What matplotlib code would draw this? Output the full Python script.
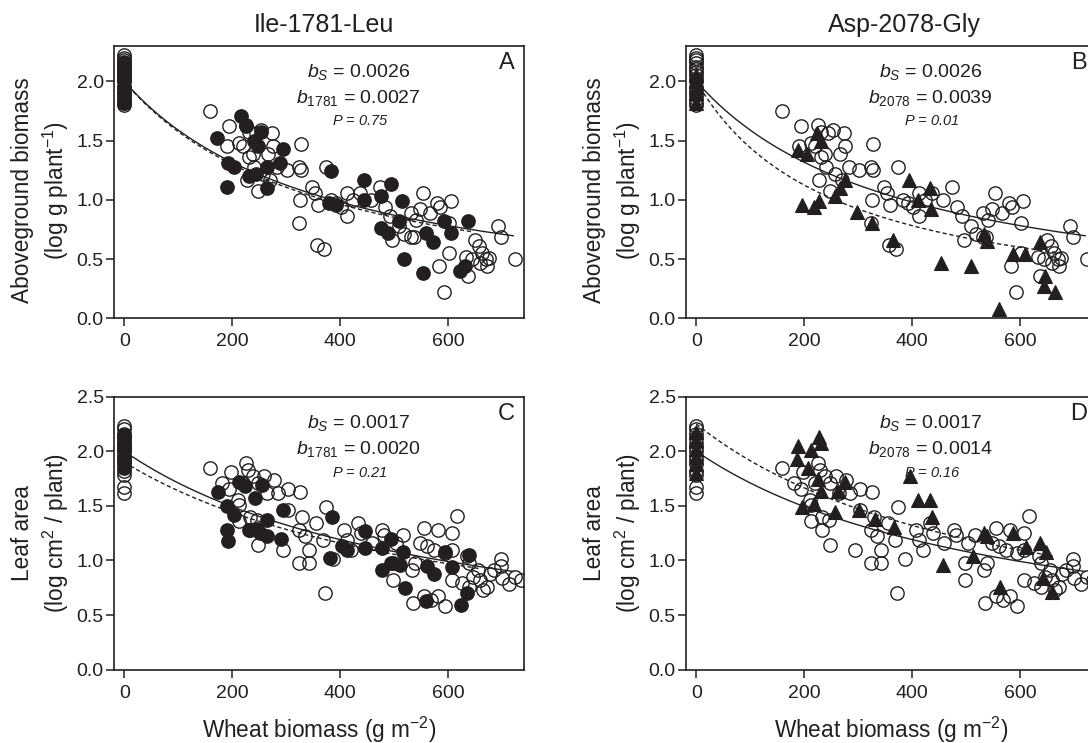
import numpy as np
import matplotlib
matplotlib.use("Agg")
import matplotlib.pyplot as plt

plt.rcParams['font.family'] = ['Liberation Sans', 'DejaVu Sans']
plt.rcParams['mathtext.fontset'] = 'custom'
plt.rcParams['mathtext.rm'] = 'Liberation Sans'
plt.rcParams['mathtext.it'] = 'Liberation Sans:italic'
plt.rcParams['mathtext.bf'] = 'Liberation Sans:bold'

# ---------------- data ----------------
titles = ["Ile-1781-Leu", "Asp-2078-Gly"]
panel_letters = ["A", "B", "C", "D"]
bio_ylabel = "Aboveground biomass\n(log g plant$^{-1}$)"
leaf_ylabel = "Leaf area\n(log cm$^{2}$ / plant)"
xlabel = "Wheat biomass (g m$^{-2}$)"
xticks = [0, 200, 400, 600]
bio_yticks = [0.0, 0.5, 1.0, 1.5, 2.0]
leaf_yticks = [0.0, 0.5, 1.0, 1.5, 2.0, 2.5]

# Aboveground biomass, susceptible (open circles)
bio_S_x = [0, 0, 0, 0, 0, 0, 0, 0, 0, 0, 0, 0, 0, 0, 0, 0,
           158, 194, 191, 212, 219, 225, 230, 244, 254, 273, 238, 231, 267, 276,
           241, 257, 228, 248, 270, 283, 302, 327, 323, 328, 347, 354, 359, 325,
           323, 357, 369, 373, 383, 392, 402, 412, 412, 424, 437, 457, 473, 482,
           492, 495, 508, 518, 531, 537, 531, 540, 547, 553, 566, 579, 585, 605,
           602, 602, 582, 592, 637, 633, 649, 656, 662, 669, 672, 643, 659, 675,
           691, 698, 723]
bio_S_y = [1.80, 1.82, 1.85, 1.88, 1.92, 1.95, 2.00, 2.02, 2.05, 2.08, 2.10, 2.12, 2.15, 2.18, 2.20, 2.22,
           1.75, 1.62, 1.45, 1.48, 1.45, 1.63, 1.57, 1.56, 1.59, 1.56, 1.39, 1.36, 1.39, 1.45,
           1.28, 1.22, 1.17, 1.07, 1.17, 1.28, 1.25, 1.47, 1.28, 1.25, 1.11, 1.06, 0.96, 1.00,
           0.80, 0.62, 0.585, 1.28, 1.00, 0.97, 0.94, 1.06, 0.86, 1.00, 1.06, 1.00, 1.11, 0.94,
           0.86, 0.66, 0.78, 0.71, 0.69, 0.69, 0.89, 0.83, 0.92, 1.06, 0.89, 0.97, 0.94, 0.99,
           0.80, 0.55, 0.44, 0.22, 0.36, 0.52, 0.66, 0.61, 0.55, 0.50, 0.44, 0.50, 0.47, 0.51,
           0.78, 0.69, 0.50]

# Aboveground biomass, Ile-1781-Leu (filled circles)
bio_1781_x = [0, 0, 0, 0, 0, 0, 0, 0, 0, 0,
              172, 192, 203, 190, 216, 225, 241, 254, 248, 231, 244, 264, 264, 289,
              293, 383, 444, 444, 476, 494, 476, 489, 514, 508, 518, 553, 559, 572,
              592, 605, 637, 621, 630, 379, 392]
bio_1781_y = [1.82, 1.85, 1.90, 1.95, 2.00, 2.03, 2.06, 2.10, 2.13, 2.16,
              1.52, 1.31, 1.28, 1.11, 1.71, 1.62, 1.50, 1.57, 1.45, 1.20, 1.22, 1.28, 1.10, 1.31,
              1.43, 1.24, 1.17, 1.00, 1.03, 1.13, 0.76, 0.72, 0.99, 0.82, 0.50, 0.38, 0.72, 0.64,
              0.82, 0.72, 0.82, 0.40, 0.44, 0.97, 0.96]

# Aboveground biomass, Asp-2078-Gly (filled triangles)
bio_2078_x = [0, 0, 0, 0, 0,
              189, 205, 224, 231, 195, 218, 228, 256, 266, 275, 298, 326, 365, 394,
              410, 432, 435, 453, 509, 532, 538, 560, 586, 608, 637, 646, 643, 664]
bio_2078_y = [1.82, 1.90, 1.95, 2.00, 2.05,
              1.42, 1.39, 1.56, 1.50, 0.96, 0.94, 0.99, 1.03, 1.10, 1.17, 0.90, 0.80, 0.66, 1.17,
              1.00, 1.10, 0.92, 0.47, 0.44, 0.71, 0.65, 0.08, 0.54, 0.54, 0.64, 0.36, 0.27, 0.22]

# Leaf area, susceptible (open circles)
leaf_S_x = [0, 0, 0, 0, 0, 0, 0, 0, 0, 0, 0, 0, 0, 0,
            159, 181, 197, 194, 210, 213, 225, 229, 239, 219, 248, 258, 277, 265, 284,
            303, 326, 232, 245, 232, 213, 248, 294, 303, 323, 329, 335, 323, 342, 342,
            355, 374, 368, 371, 387, 406, 413, 432, 439, 419, 458, 477, 481, 497, 497,
            516, 503, 532, 539, 548, 555, 561, 581, 574, 594, 606, 606, 616, 606, 535,
            555, 568, 581, 594, 626, 635, 639, 645, 655, 658, 665, 671, 677, 684, 697,
            700, 713, 723, 735, 697, 639]
leaf_S_y = [1.62, 1.67, 1.78, 1.82, 1.88, 1.92, 1.96, 2.00, 2.04, 2.08, 2.12, 2.16, 2.20, 2.23,
            1.85, 1.71, 1.81, 1.65, 1.55, 1.51, 1.89, 1.83, 1.77, 1.71, 1.71, 1.77, 1.74, 1.62, 1.62,
            1.65, 1.63, 1.40, 1.37, 1.28, 1.36, 1.14, 1.10, 1.46, 1.28, 1.40, 1.22, 0.98, 0.98, 1.10,
            1.34, 1.49, 1.19, 0.70, 1.01, 1.28, 1.19, 1.34, 1.25, 1.10, 1.16, 1.28, 1.23, 0.98, 0.82,
            1.23, 1.16, 0.91, 0.98, 1.16, 1.30, 1.13, 1.28, 1.10, 1.07, 1.25, 1.10, 1.41, 0.82, 0.61,
            0.67, 0.64, 0.67, 0.58, 0.79, 1.04, 0.98, 0.85, 0.91, 0.82, 0.73, 0.76, 0.88, 0.91, 1.01,
            0.84, 0.78, 0.85, 0.82, 0.95, 0.76]

# Leaf area, Ile-1781-Leu (filled circles)
leaf_1781_x = [0, 0, 0, 0, 0, 0, 0, 0,
               173, 190, 190, 192, 203, 213, 223, 242, 255, 231, 245, 265, 252, 265,
               290, 294, 384, 381, 403, 413, 445, 445, 477, 477, 494, 494, 510, 516,
               519, 558, 561, 574, 594, 606, 623, 635, 639]
leaf_1781_y = [1.85, 1.90, 1.95, 2.00, 2.04, 2.08, 2.12, 2.15,
               1.63, 1.50, 1.28, 1.18, 1.42, 1.72, 1.68, 1.57, 1.69, 1.28, 1.29, 1.37, 1.25, 1.22,
               1.20, 1.46, 1.40, 1.02, 1.13, 1.10, 1.27, 1.11, 1.11, 0.91, 1.20, 0.98, 0.96, 1.08,
               0.75, 0.63, 0.95, 0.88, 1.08, 0.94, 0.59, 0.70, 1.05]

# Leaf area, Asp-2078-Gly (filled triangles)
leaf_2078_x = [0, 0, 0, 0, 0, 0,
               189, 186, 212, 228, 231, 207, 195, 218, 225, 231, 263, 276, 257, 302,
               330, 366, 395, 411, 433, 436, 456, 513, 533, 539, 562, 587, 610, 636,
               648, 642, 658]
leaf_2078_y = [1.80, 1.88, 1.95, 2.02, 2.10, 2.18,
               2.05, 1.93, 2.01, 2.13, 2.08, 1.85, 1.49, 1.52, 1.75, 1.64, 1.64, 1.72, 1.44, 1.46,
               1.38, 1.31, 1.77, 1.55, 1.55, 1.40, 0.96, 1.04, 1.25, 1.22, 0.76, 1.25, 1.12, 1.16,
               1.08, 0.84, 0.71]

# b-values printed on the panels
b_S_bio = "0.0026"
b_1781_bio = "0.0027"
b_2078_bio = "0.0039"
b_S_leaf = "0.0017"
b_1781_leaf = "0.0020"
b_2078_leaf = "0.0014"
p_values = ["0.75", "0.01", "0.21", "0.16"]

# fitted hyperbolic curves y = y0 / (1 + b x): (y0, b, x_end)
fit_solid = [(2.0, 0.0026, 720), (2.0, 0.0026, 720), (2.0, 0.0017, 720), (2.0, 0.0017, 720)]
fit_dashed = [(2.0, 0.0027, 645), (2.0, 0.0039, 665), (1.9, 0.0016, 660), (2.25, 0.00176, 660)]

# ---------------- figure ----------------
W, H = 1088, 743
fig = plt.figure(figsize=(W / 100, H / 100), dpi=100)

axw = 410 / W
axh_top = 272.6 / H
axh_bot = 272.9 / H
lefts = [114 / W, 686 / W]
bottoms = [1 - 318.3 / H, 1 - 669.6 / H]

ink = '#231f20'

panels = [
    dict(open=(bio_S_x, bio_S_y), mut=(bio_1781_x, bio_1781_y), marker='o',
         ylim=(0, 2.3), yticks=bio_yticks, ylabel=bio_ylabel, ylab_y=0.47,
         b1="$b_{S}$ = " + b_S_bio, b2="$b_{\\mathit{1781}}$ = " + b_1781_bio),
    dict(open=(bio_S_x, bio_S_y), mut=(bio_2078_x, bio_2078_y), marker='^',
         ylim=(0, 2.3), yticks=bio_yticks, ylabel=bio_ylabel, ylab_y=0.47,
         b1="$b_{S}$ = " + b_S_bio, b2="$b_{\\mathit{2078}}$ = " + b_2078_bio),
    dict(open=(leaf_S_x, leaf_S_y), mut=(leaf_1781_x, leaf_1781_y), marker='o',
         ylim=(0, 2.5), yticks=leaf_yticks, ylabel=leaf_ylabel, ylab_y=0.5,
         b1="$b_{S}$ = " + b_S_leaf, b2="$b_{\\mathit{1781}}$ = " + b_1781_leaf),
    dict(open=(leaf_S_x, leaf_S_y), mut=(leaf_2078_x, leaf_2078_y), marker='^',
         ylim=(0, 2.5), yticks=leaf_yticks, ylabel=leaf_ylabel, ylab_y=0.5,
         b1="$b_{S}$ = " + b_S_leaf, b2="$b_{\\mathit{2078}}$ = " + b_2078_leaf),
]

for i, p in enumerate(panels):
    row, col = divmod(i, 2)
    ax = fig.add_axes([lefts[col], bottoms[row], axw, axh_top if row == 0 else axh_bot])
    ax.set_xlim(-19, 740)
    ax.set_ylim(*p['ylim'])
    ax.set_xticks(xticks)
    ax.set_yticks(p['yticks'])
    ax.set_yticklabels([f"{v:.1f}" for v in p['yticks']])
    for s in ax.spines.values():
        s.set_linewidth(1.2)
        s.set_color(ink)
    ax.tick_params(direction='out', length=5.8, width=1.1, color=ink,
                   labelsize=14, labelcolor=ink)
    ax.tick_params(axis='x', pad=5)
    ax.tick_params(axis='y', pad=1.5)

    ox, oy = p['open']
    ax.plot(ox, oy, linestyle='none', marker='o', markersize=9.6,
            mfc='none', mec=ink, mew=1.0, zorder=3)
    mx, my = p['mut']
    if p['marker'] == 'o':
        ax.plot(mx, my, linestyle='none', marker='o', markersize=9.6,
                mfc=ink, mec=ink, mew=1.0, zorder=4)
    else:
        ax.plot(mx, my, linestyle='none', marker='^', markersize=9.5,
                mfc=ink, mec=ink, mew=0.8, zorder=4)

    y0, b, xe = fit_solid[i]
    xs = np.linspace(0, xe, 200)
    ax.plot(xs, y0 / (1 + b * xs), color=ink, lw=1.0, zorder=5)
    y0, b, xe = fit_dashed[i]
    xs = np.linspace(0, xe, 200)
    ax.plot(xs, y0 / (1 + b * xs), color=ink, lw=1.0, ls=(0, (3, 2)), zorder=5)

    ax.text(0.597, 0.905, p['b1'], transform=ax.transAxes, ha='center', va='center',
            fontsize=14, color=ink)
    ax.text(0.597, 0.808, p['b2'], transform=ax.transAxes, ha='center', va='center',
            fontsize=14, color=ink)
    ax.text(0.600, 0.722, "$P$ = " + p_values[i], transform=ax.transAxes, ha='center',
            va='center', fontsize=10.5, color=ink, style='italic')
    ax.text(0.978, 0.937, panel_letters[i], transform=ax.transAxes, ha='right',
            va='center', fontsize=17, color=ink)

    ax.text(-0.179, p['ylab_y'], p['ylabel'], transform=ax.transAxes, rotation=90,
            ha='center', va='center', fontsize=16.3, color=ink, linespacing=1.3,
            multialignment='center')
    if row == 1:
        fig.text((lefts[col] * W + 205) / W, 1 - 730 / H, xlabel, ha='center',
                 va='center', fontsize=16.3, color=ink)

fig.text(324 / W, 1 - 25 / H, titles[0], ha='center', va='center', fontsize=18, color=ink)
fig.text(904 / W, 1 - 25 / H, titles[1], ha='center', va='center', fontsize=18, color=ink)

fig.savefig("out.png", dpi=100)
